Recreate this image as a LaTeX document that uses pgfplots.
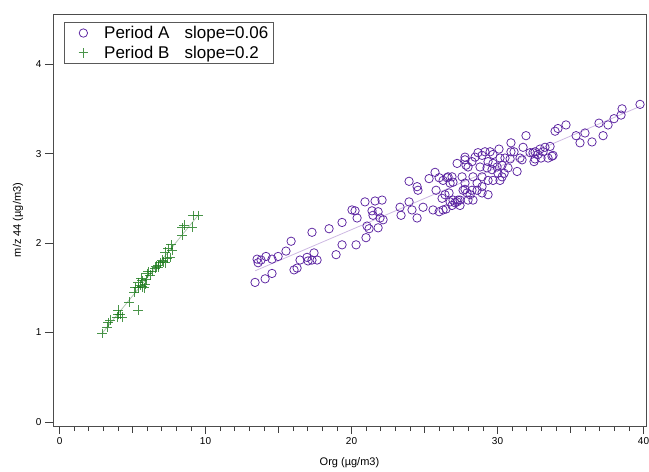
\documentclass[border=0pt]{standalone}
\usepackage{pgfplots}
\pgfplotsset{compat=1.18}
\usepackage{fontspec}
\setmainfont{Liberation Sans}

\definecolor{perA}{HTML}{5A22A0}
\definecolor{perAfit}{HTML}{CDB8E2}
\definecolor{perB}{HTML}{1C7A1C}
\definecolor{perBfit}{HTML}{B4C8B4}

\begin{document}
\begin{tikzpicture}
\begin{axis}[
  name=ax,
  scale only axis,
  width=593pt, height=412pt,
  xmin=-0.45, xmax=40.17,
  ymin=-0.045, ymax=4.56,
  xtick={0,10,20,30,40},
  ytick={0,1,2,3,4},
  minor x tick num=9,
  extra x ticks={5,15,25,35},
  extra x tick labels={},
  extra x tick style={major tick length=6.5pt},
  xtick pos=bottom, ytick pos=left,
  tick align=outside,
  major tick length=8pt,
  minor tick length=5pt,
  every tick/.style={black!75, line width=0.6pt},
  axis line style={black!70, line width=0.8pt},
  tick label style={font=\fontsize{10}{11}\selectfont},
  /pgf/number format/assume math mode=true,
  xlabel={Org (µg/m3)},
  ylabel={m/z 44 (µg/m3)},
  label style={font=\fontsize{11}{13}\selectfont},
  xlabel style={at={(axis description cs:0.5,-0.0898)}, anchor=center},
  ylabel style={at={(axis description cs:-0.059,0.5)}, anchor=center},
  legend style={
    at={(rel axis cs:0.0186,0.981)}, anchor=north west,
    draw=black!65, line width=0.6pt,
    font=\fontsize{17}{19}\selectfont,
    inner xsep=3pt, inner ysep=2pt,
    row sep=2pt,
  },
  legend image code/.code={%
    \path (0cm,0cm);
    \draw plot coordinates {(0.55cm,0cm)};
  },
  legend cell align=left,
]

% least-squares fit lines
\addplot[perAfit, line width=0.8pt, forget plot] coordinates {(13.4,1.69) (39.8,3.53)};
\addplot[perBfit, line width=0.8pt, forget plot] coordinates {(2.91,0.99) (9.49,2.31)};

% Period A
\addplot[only marks, mark=o, mark size=4.2pt, draw=perA, line width=0.75pt]
  table[row sep=\\] {
x y\\
13.39 1.56\\ 14.08 1.60\\ 14.55 1.66\\ 13.53 1.82\\ 13.60 1.78\\ 13.80 1.81\\
14.14 1.85\\ 14.55 1.82\\ 14.97 1.85\\ 15.51 1.91\\ 15.86 2.02\\ 16.06 1.70\\
16.27 1.72\\ 16.47 1.81\\ 16.95 1.84\\ 17.02 1.80\\ 17.29 1.81\\ 17.43 1.89\\
17.64 1.81\\ 17.29 2.12\\ 18.46 2.16\\ 18.94 1.87\\ 19.35 1.98\\ 19.35 2.23\\
20.03 2.37\\ 20.24 2.36\\ 20.38 2.28\\ 20.31 1.98\\ 20.92 2.46\\ 20.99 2.06\\
21.06 2.19\\ 21.20 2.16\\ 21.61 2.47\\ 22.09 2.48\\ 21.40 2.36\\ 21.47 2.31\\
21.82 2.35\\ 21.95 2.28\\ 22.16 2.26\\ 21.82 2.17\\ 23.32 2.40\\ 23.39 2.31\\
23.94 2.46\\ 24.14 2.37\\ 24.49 2.28\\ 24.90 2.40\\ 23.94 2.69\\ 24.49 2.63\\
24.55 2.59\\ 25.31 2.72\\ 25.72 2.79\\ 25.79 2.59\\ 26.00 2.73\\ 25.58 2.37\\
26.00 2.35\\ 26.20 2.50\\ 26.27 2.70\\ 26.54 2.73\\ 26.75 2.67\\ 26.88 2.74\\
26.68 2.56\\ 26.47 2.38\\ 26.95 2.48\\ 27.09 2.45\\ 27.43 2.48\\ 27.23 2.89\\
27.77 2.93\\ 27.84 2.87\\ 27.64 2.59\\ 27.91 2.56\\ 27.43 2.42\\ 26.88 2.42\\
27.77 2.96\\ 27.98 2.85\\ 28.25 2.91\\ 28.46 2.96\\ 28.66 3.01\\ 28.94 2.98\\
29.14 3.02\\ 29.49 3.02\\ 29.69 2.99\\ 30.10 3.05\\ 30.17 2.95\\ 30.92 3.12\\
30.92 3.02\\ 31.13 3.02\\ 31.75 3.07\\ 31.95 3.20\\ 32.23 3.01\\ 32.43 3.01\\
32.57 2.94\\ 31.68 2.93\\ 29.35 2.91\\ 29.69 2.89\\ 29.97 2.85\\ 30.31 2.87\\
28.80 2.85\\ 29.28 2.84\\ 29.62 2.82\\ 30.03 2.78\\ 30.45 2.78\\ 30.72 2.84\\
31.34 2.80\\ 30.31 2.74\\ 30.17 2.70\\ 29.69 2.70\\ 28.94 2.74\\ 28.32 2.74\\
27.57 2.74\\ 26.61 2.74\\ 26.95 2.68\\ 27.77 2.67\\ 28.60 2.67\\ 29.35 2.70\\
28.94 2.63\\ 27.77 2.60\\ 28.25 2.59\\ 28.60 2.59\\ 29.35 2.54\\ 28.94 2.56\\
28.12 2.54\\ 28.32 2.48\\ 27.98 2.48\\ 27.29 2.48\\ 26.40 2.54\\ 26.75 2.46\\
27.23 2.46\\ 26.27 2.37\\ 39.76 3.55\\ 38.53 3.50\\ 38.46 3.43\\ 37.98 3.39\\
37.57 3.32\\ 36.95 3.34\\ 37.23 3.20\\ 36.47 3.13\\ 35.99 3.23\\ 35.65 3.12\\
35.38 3.20\\ 34.69 3.32\\ 34.14 3.28\\ 33.94 3.25\\ 33.80 2.98\\ 33.60 3.08\\
33.25 3.07\\ 33.12 3.02\\ 32.91 3.05\\ 32.77 2.99\\ 32.57 3.02\\ 32.50 2.91\\
32.98 2.95\\ 33.46 2.95\\ 33.73 2.97\\ 31.54 2.95\\ 30.86 2.94\\ 30.51 2.95\\
};
\addlegendentry{\hspace{14pt}Period A\hspace{0.9em}slope=0.06}

% Period B
\addplot[only marks, mark=+, mark size=4.8pt, draw=perB, draw opacity=0.8, line width=0.8pt]
  table[row sep=\\] {
x y\\
2.91 0.99\\ 3.25 1.06\\ 3.32 1.11\\ 3.46 1.14\\ 3.94 1.17\\ 4.01 1.25\\
4.14 1.20\\ 4.28 1.17\\ 4.01 1.20\\ 5.38 1.25\\ 4.76 1.34\\ 5.10 1.45\\
5.17 1.50\\ 5.38 1.56\\ 5.38 1.50\\ 5.51 1.53\\ 5.65 1.51\\ 5.65 1.58\\
5.79 1.50\\ 5.86 1.54\\ 5.92 1.59\\ 5.58 1.61\\ 5.99 1.66\\ 6.06 1.68\\
6.20 1.64\\ 6.34 1.68\\ 6.54 1.72\\ 6.61 1.74\\ 6.75 1.73\\ 6.75 1.75\\
6.88 1.78\\ 7.02 1.81\\ 7.09 1.79\\ 7.23 1.78\\ 7.36 1.83\\ 7.23 1.90\\
7.57 1.84\\ 7.64 1.98\\ 7.43 1.94\\ 7.71 1.92\\ 8.39 2.09\\ 8.39 2.17\\
8.53 2.20\\ 9.08 2.18\\ 9.14 2.31\\ 9.49 2.31\\
};
\addlegendentry{\hspace{14pt}Period B\hspace{0.9em}slope=0.2}
\end{axis}
\pgfresetboundingbox
\path (ax.south west) ++(-53pt,-45pt) rectangle ([shift={(3pt,14pt)}]ax.north east);
\end{tikzpicture}
\end{document}
